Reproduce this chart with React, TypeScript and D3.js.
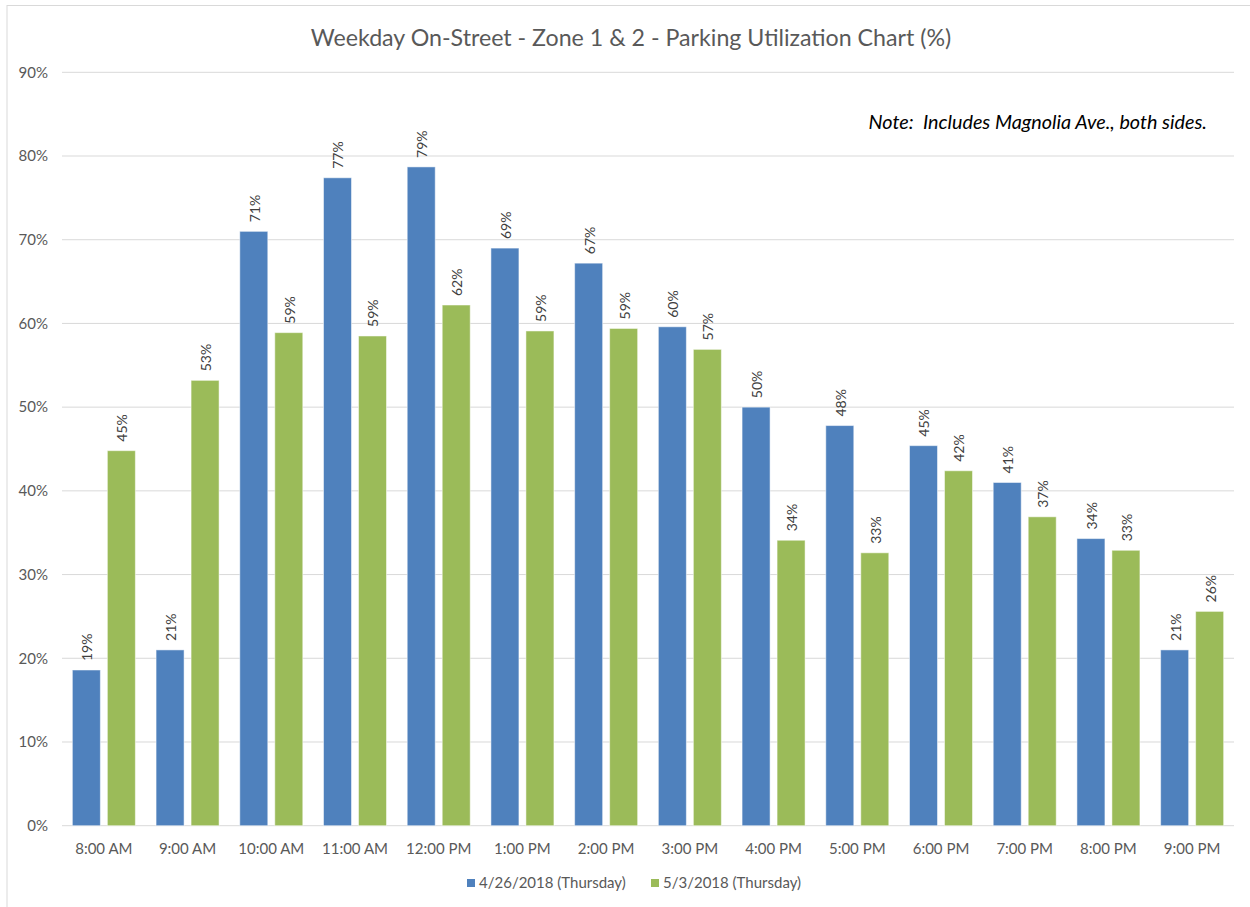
import * as d3 from 'd3'
import { useEffect, useRef } from 'react'

const categories = [
  '8:00 AM', '9:00 AM', '10:00 AM', '11:00 AM', '12:00 PM', '1:00 PM', '2:00 PM',
  '3:00 PM', '4:00 PM', '5:00 PM', '6:00 PM', '7:00 PM', '8:00 PM', '9:00 PM',
]
const seriesNames = ['4/26/2018 (Thursday)', '5/3/2018 (Thursday)']
const apr26 = [18.6, 21.0, 71.0, 77.4, 78.7, 69.0, 67.2, 59.6, 50.0, 47.8, 45.4, 41.0, 34.3, 21.0]
const may3 = [44.8, 53.2, 58.9, 58.5, 62.2, 59.1, 59.4, 56.9, 34.1, 32.6, 42.4, 36.9, 32.9, 25.6]
const yTicks = [0, 10, 20, 30, 40, 50, 60, 70, 80, 90]
const colors = ['#4F81BD', '#9BBB59']

const W = 1250
const H = 907

const App = () => {
  const ref = useRef<SVGSVGElement>(null)

  useEffect(() => {
    const svg = d3.select(ref.current)
    svg.selectAll('*').remove()

    const left = 62
    const right = 1234
    const top = 72.3
    const bottom = 825.7
    const font = 'Lato, Calibri, "Open Sans", sans-serif'

    // chart frame
    svg.append('rect')
      .attr('x', 7).attr('y', 5.5)
      .attr('width', W).attr('height', H)
      .attr('fill', '#fff')
      .attr('stroke', '#d9d9d9')

    const x0 = d3.scaleBand().domain(categories).range([left, right]).paddingInner(0).paddingOuter(0)
    const y = d3.scaleLinear().domain([0, 90]).range([bottom, top])

    // gridlines
    svg.append('g')
      .selectAll('line')
      .data(yTicks)
      .join('line')
      .attr('x1', left).attr('x2', right)
      .attr('y1', d => y(d)).attr('y2', d => y(d))
      .attr('stroke', '#d9d9d9')
      .attr('stroke-width', 1)

    svg.append('g')
      .selectAll('text')
      .data(yTicks)
      .join('text')
      .attr('x', 48)
      .attr('y', d => y(d))
      .attr('dy', '0.35em')
      .attr('text-anchor', 'end')
      .attr('font-family', font)
      .attr('font-size', 15)
      .attr('fill', '#595959')
      .text(d => d + '%')

    // x labels
    svg.append('g')
      .selectAll('text')
      .data(categories)
      .join('text')
      .attr('x', d => (x0(d) as number) + x0.bandwidth() / 2)
      .attr('y', 849)
      .attr('dy', '0.35em')
      .attr('text-anchor', 'middle')
      .attr('font-family', font)
      .attr('font-size', 15)
      .attr('fill', '#595959')
      .text(d => d)

    const barW = 28
    const gap = 7
    const groupW = barW * 2 + gap
    const series = [apr26, may3]

    series.forEach((vals, si) => {
      const g = svg.append('g')
      const bx = (i: number) =>
        (x0(categories[i]) as number) + (x0.bandwidth() - groupW) / 2 + si * (barW + gap)
      g.selectAll('rect')
        .data(vals)
        .join('rect')
        .attr('x', (d, i) => bx(i))
        .attr('y', d => y(d))
        .attr('width', barW)
        .attr('height', d => y(0) - y(d))
        .attr('fill', colors[si])
        .attr('stroke', '#fff')
        .attr('stroke-opacity', 0.5)
        .attr('stroke-width', 1)

      g.selectAll('text')
        .data(vals)
        .join('text')
        .attr('transform', (d, i) => `translate(${bx(i) + barW / 2 + 1},${y(d) - 9}) rotate(-90)`)
        .attr('dy', '0.35em')
        .attr('text-anchor', 'start')
        .attr('font-family', font)
        .attr('font-size', 14)
        .attr('fill', '#404040')
        .text(d => Math.round(d) + '%')
    })

    // title
    svg.append('text')
      .attr('x', 631)
      .attr('y', 38)
      .attr('dy', '0.35em')
      .attr('text-anchor', 'middle')
      .attr('font-family', font)
      .attr('font-size', 23.2)
      .attr('fill', '#595959')
      .text('Weekday On-Street - Zone 1 & 2 - Parking Utilization Chart (%)')

    // note
    svg.append('text')
      .attr('x', 1207)
      .attr('y', 122)
      .attr('dy', '0.35em')
      .attr('text-anchor', 'end')
      .attr('font-family', font)
      .attr('font-style', 'italic')
      .attr('font-size', 19.8)
      .attr('fill', '#000')
      .style('white-space', 'pre')
      .text('Note:  Includes Magnolia Ave., both sides.')

    // legend
    const legendX = [467, 651]
    seriesNames.forEach((name, i) => {
      svg.append('rect')
        .attr('x', legendX[i]).attr('y', 879)
        .attr('width', 8).attr('height', 8)
        .attr('fill', colors[i])
      svg.append('text')
        .attr('x', legendX[i] + 12)
        .attr('y', 883)
        .attr('dy', '0.35em')
        .attr('font-family', font)
        .attr('font-size', 15)
        .attr('fill', '#595959')
        .text(name)
    })
  }, [])

  return (
    <svg
      ref={ref}
      width={W}
      height={H}
      style={{ position: 'absolute', left: 0, top: 0, background: '#fff' }}
    />
  )
}

export default App
